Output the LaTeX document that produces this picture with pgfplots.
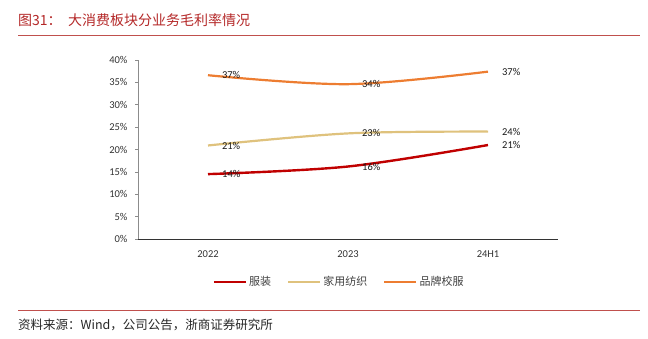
\documentclass[border=0pt]{standalone}
\usepackage{pgfplots}
\pgfplotsset{compat=1.18}
\usepackage{fontspec}
\setmainfont{Carlito}
\newfontfamily\cjk{Noto Sans CJK SC}
\definecolor{cRed}{HTML}{C00000}
\definecolor{cYel}{HTML}{DFC27D}
\definecolor{cOra}{HTML}{ED7D31}
\definecolor{titleRed}{HTML}{B42828}
\definecolor{rule}{HTML}{C0504D}
\begin{document}
\begin{tikzpicture}[x=1pt,y=1pt]
\path (0,0) rectangle (648,338);
\node[anchor=west, inner sep=0pt, text=titleRed, font=\cjk\fontsize{14}{16}\selectfont] at (18,318) {图31：};
\node[anchor=west, inner sep=0pt, text=titleRed, font=\cjk\fontsize{14}{16}\selectfont] at (68,318) {大消费板块分业务毛利率情况};
\draw[rule, line width=0.9pt] (18,303) -- (640,303);
\draw[rule, line width=0.9pt] (18,28) -- (640,28);
\node[anchor=west, inner sep=0pt, text=black!85, font=\cjk\fontsize{12.5}{14}\selectfont] at (18,13) {资料来源：Wind，公司公告，浙商证券研究所};
\begin{axis}[
  at={(138pt,99pt)}, anchor=south west,
  scale only axis, width=420pt, height=179pt,
  xmin=-0.5, xmax=2.5, ymin=0, ymax=40,
  axis x line*=bottom, axis y line*=left,
  x axis line style={black!80, line width=0.6pt, -},
  y axis line style={black!45, line width=0.6pt, -},
  xtick={0,1,2}, xticklabels={2022,2023,24H1},
  xtick style={draw=none},
  extra x ticks={-0.5,0.5,1.5,2.5}, extra x tick labels={},
  extra x tick style={major tick length=4pt, tick align=outside, tick style={draw=black!80, line width=0.6pt}},
  ytick={0,5,...,40},
  yticklabel={\pgfmathprintnumber{\tick}\%},
  ytick style={draw=black!45, line width=0.6pt},
  major tick length=3pt, tick align=outside,
  /pgf/number format/assume math mode=true,
  ticklabel style={font=\fontsize{10.5}{12}\selectfont, text=black!80},
  xticklabel style={yshift=-5pt},
  yticklabel style={xshift=-4pt},
  legend columns=3,
  legend style={at={(0.479,-0.24)}, anchor=center, draw=none, fill=none,
    font=\cjk\fontsize{11}{13}\selectfont, text=black!75,
    /tikz/every even column/.append style={column sep=14pt}},
  legend image code/.code={\draw[#1] (0pt,0pt) -- (32pt,0pt);},
  point meta=explicit symbolic,
  nodes near coords,
  every node near coord/.append style={anchor=west, xshift=12pt, inner sep=1pt, font=\fontsize{10.5}{12}\selectfont, text=black!90},
  clip=false,
]
\addplot[cRed, line width=2.4pt, smooth, tension=0.55] coordinates {(0,14.5) [14\%] (1,16.2) [16\%] (2,21.0) [21\%]};
\addlegendentry{服装}
\addplot[cYel, line width=2.2pt, smooth, tension=0.55] coordinates {(0,20.9) [21\%] (1,23.6) [23\%] (2,24.0) [24\%]};
\addlegendentry{家用纺织}
\addplot[cOra, line width=2.2pt, smooth, tension=0.55] coordinates {(0,36.6) [37\%] (1,34.6) [34\%] (2,37.4) [37\%]};
\addlegendentry{品牌校服}
\end{axis}
\end{tikzpicture}
\end{document}
